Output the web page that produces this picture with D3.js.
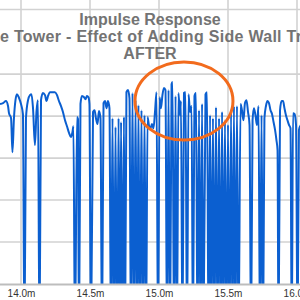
<!DOCTYPE html>
<html><head><meta charset="utf-8">
<script src="https://cdn.jsdelivr.net/npm/d3@7"></script>
<style>html,body{margin:0;padding:0;background:#fff;overflow:hidden}</style>
</head><body><svg id="c" width="300" height="300"></svg>
<script>
const titleLines = ["Impulse Response", "e Tower - Effect of Adding Side Wall Tr", "AFTER"];
const xTicks = [14.0, 14.5, 15.0, 15.5, 16.0];
const xTickLabels = ["14.0m", "14.5m", "15.0m", "15.5m", "16.0m"];
const yGrid = [-50, -40, -30, -20, -10];

// distance (m) and level (dB)
const distance = [
 13.848,13.870,13.891,13.906,13.913,13.928,13.938,13.949,13.960,13.971,13.986,14.000,14.014,14.025,14.036,14.051,14.065,14.076,14.087,14.101,
 14.112,14.123,14.134,14.145,14.159,14.174,14.185,14.196,14.210,14.232,14.246,14.261,14.275,14.290,14.304,14.319,14.333,14.348,14.362,14.373,
 14.380,14.391,14.406,14.413,14.420,14.431,14.442,14.457,14.467,14.478,14.489,14.496,14.507,
 14.522,14.533,14.543,14.554,14.565,14.576,14.587,14.598,14.609,14.620,14.630,14.641,14.652,14.663,14.674,14.685,14.696,14.707,14.717,14.725,
 14.736,14.746,14.754,14.764,14.775,14.786,14.797,14.808,14.819,14.830,14.841,14.851,14.862,14.873,14.884,14.895,14.906,14.917,14.928,14.938,
 14.949,14.960,14.971,14.982,14.993,15.004,15.014,15.025,15.036,15.047,15.058,
 15.069,15.080,15.091,15.098,15.109,15.120,15.130,15.141,15.152,15.159,15.170,15.181,15.192,15.203,15.214,15.225,15.236,15.246,15.257,15.268,
 15.279,15.290,15.301,15.312,15.322,15.337,15.348,15.359,15.370,15.380,15.391,15.402,15.413,15.424,15.435,15.446,15.457,15.467,15.478,15.489,
 15.500,15.511,15.522,15.533,15.543,15.554,15.565,15.576,15.591,15.601,15.612,15.623,15.634,15.645,15.656,15.667,15.678,15.688,15.699,15.710,
 15.721,15.732,15.743,15.754,15.764,15.775,15.786,15.797,15.808,15.819,15.830,15.841,15.851,15.859,15.866,15.877,15.888,15.899,15.909,15.920,
 15.931,15.942,15.953,15.962,15.971,15.982,15.993,16.004,16.014,16.029
];
const level = [
 -17.1,-16.9,-16.4,-17.6,-19.3,-20.5,-28.6,-20.5,-16.2,-14.8,-15.7,-17.1,-19.5,-75,-20.5,-16.2,-15.0,-14.8,-18.1,-26.9,
 -19.0,-16.2,-75,-16.2,-14.5,-15.0,-16.4,-15.2,-14.3,-14.3,-14.3,-15.0,-16.4,-17.6,-19.0,-21.0,-22.4,-24.0,-25.0,-23.8,
 -22.4,-75,-20.2,-20.7,-75,-17.1,-15.2,-15.5,-16.0,-15.2,-15.5,-17.1,-75,
 -19.0,-18.6,-20.5,-21.9,-18.8,-20.5,-75,-16.9,-16.4,-18.1,-16.4,-18.1,-75,-20.5,-75,-22.6,-75,-20.5,-75,-21.4,
 -75,-20.2,-75,-14.3,-13.8,-15.7,-75,-14.5,-75,-16.2,-75,-17.4,-75,-18.6,-75,-19.8,-75,-20.2,-22.4,-22.9,
 -21.9,-22.9,-19.0,-14.3,-75,-15.5,-18.1,-15.0,-13.3,-13.8,-75,
 -13.8,-75,-12.4,-11.9,-75,-15.2,-75,-14.5,-19.8,-16.4,-75,-14.5,-14.3,-75,-14.8,-19.0,-17.6,-75,-15.2,-14.5,
 -75,-18.6,-75,-17.1,-75,-14.8,-14.3,-75,-19.8,-75,-20.5,-75,-17.9,-75,-20.5,-75,-19.0,-75,-21.0,-75,
 -22.1,-75,-19.0,-75,-17.6,-75,-17.6,-75,-17.1,-18.6,-21.0,-16.9,-16.2,-19.0,-22.1,-75,-21.0,-18.1,-19.8,-22.1,
 -17.6,-75,-19.8,-75,-20.5,-17.6,-16.4,-16.9,-18.6,-19.5,-21.4,-23.3,-25.7,-28.1,-75,-18.6,-16.4,-16.4,-18.1,-19.8,
 -21.0,-22.1,-22.9,-75,-19.3,-19.5,-22.1,-75,-23.3,-22.1
];
const highlightCenter = [15.181, -16.4];
const highlightRadii = [0.355, 9.3];

const W = 300, H = 300;
const plotTop = 9.5, plotBottom = 284;
const x = d3.scaleLinear().domain([14, 16]).range([21, 297]);
const y = d3.scaleLinear().domain([-60, 5.4]).range([plotBottom, plotTop]);

const svg = d3.select("#c");
svg.append("rect").attr("width", W).attr("height", H).attr("fill", "#fff");

const defs = svg.append("defs");
defs.append("clipPath").attr("id", "clip").append("rect")
  .attr("x", 0).attr("y", plotTop).attr("width", W).attr("height", plotBottom - plotTop);

const grid = svg.append("g");
grid.selectAll("line.v").data(xTicks).join("line")
  .attr("x1", d => x(d)).attr("x2", d => x(d)).attr("y1", 0).attr("y2", plotBottom)
  .attr("stroke", "#d2d2d2").attr("stroke-width", 1.6);
grid.selectAll("line.h").data(yGrid).join("line")
  .attr("x1", 0).attr("x2", W).attr("y1", d => y(d)).attr("y2", d => y(d))
  .attr("stroke", "#d2d2d2").attr("stroke-width", 1.6);
grid.append("line").attr("x1", 0).attr("x2", W).attr("y1", plotTop).attr("y2", plotTop)
  .attr("stroke", "#d2d2d2").attr("stroke-width", 1.6);

const pts = distance.map((d, i) => [d, level[i]]);
const line = d3.line().x(d => x(d[0])).y(d => y(d[1])).curve(d3.curveMonotoneX);
svg.append("path").datum(pts).attr("clip-path", "url(#clip)")
  .attr("d", line).attr("fill", "none").attr("stroke", "#0b5fd0")
  .attr("stroke-width", 2).attr("stroke-linejoin", "round");

// x axis
const xAxis = d3.axisBottom(x).tickValues(xTicks).tickSize(0)
  .tickFormat((d, i) => xTickLabels[i]);
const ax = svg.append("g").attr("transform", `translate(0,${plotBottom})`).call(xAxis);
ax.select(".domain").remove();
ax.selectAll("text").attr("font-family", "Arial, 'Liberation Sans', sans-serif")
  .attr("font-size", 10).attr("fill", "#333").attr("dy", "0").attr("y", 13);
svg.append("line").attr("x1", 0).attr("x2", W).attr("y1", plotBottom + 0.5).attr("y2", plotBottom + 0.5)
  .attr("stroke", "#bdbdbd").attr("stroke-width", 2);

// titles
const tg = svg.append("g").attr("font-family", "Arial, 'Liberation Sans', sans-serif")
  .attr("font-weight", "bold").attr("font-size", 16).attr("fill", "#737373");
tg.append("text").attr("x", 150).attr("y", 25).attr("text-anchor", "middle").text(titleLines[0]);
tg.append("text").attr("x", 0).attr("y", 42).attr("text-anchor", "start")
  .attr("textLength", 302).attr("lengthAdjust", "spacing").text(titleLines[1]);
tg.append("text").attr("x", 150).attr("y", 59).attr("text-anchor", "middle").text(titleLines[2]);

// highlight ellipse
svg.append("ellipse")
  .attr("cx", x(highlightCenter[0])).attr("cy", y(highlightCenter[1]))
  .attr("rx", x(highlightCenter[0] + highlightRadii[0]) - x(highlightCenter[0]))
  .attr("ry", y(highlightCenter[1]) - y(highlightCenter[1] + highlightRadii[1]))
  .attr("fill", "none").attr("stroke", "#f26b1d").attr("stroke-width", 3);
</script></body></html>
